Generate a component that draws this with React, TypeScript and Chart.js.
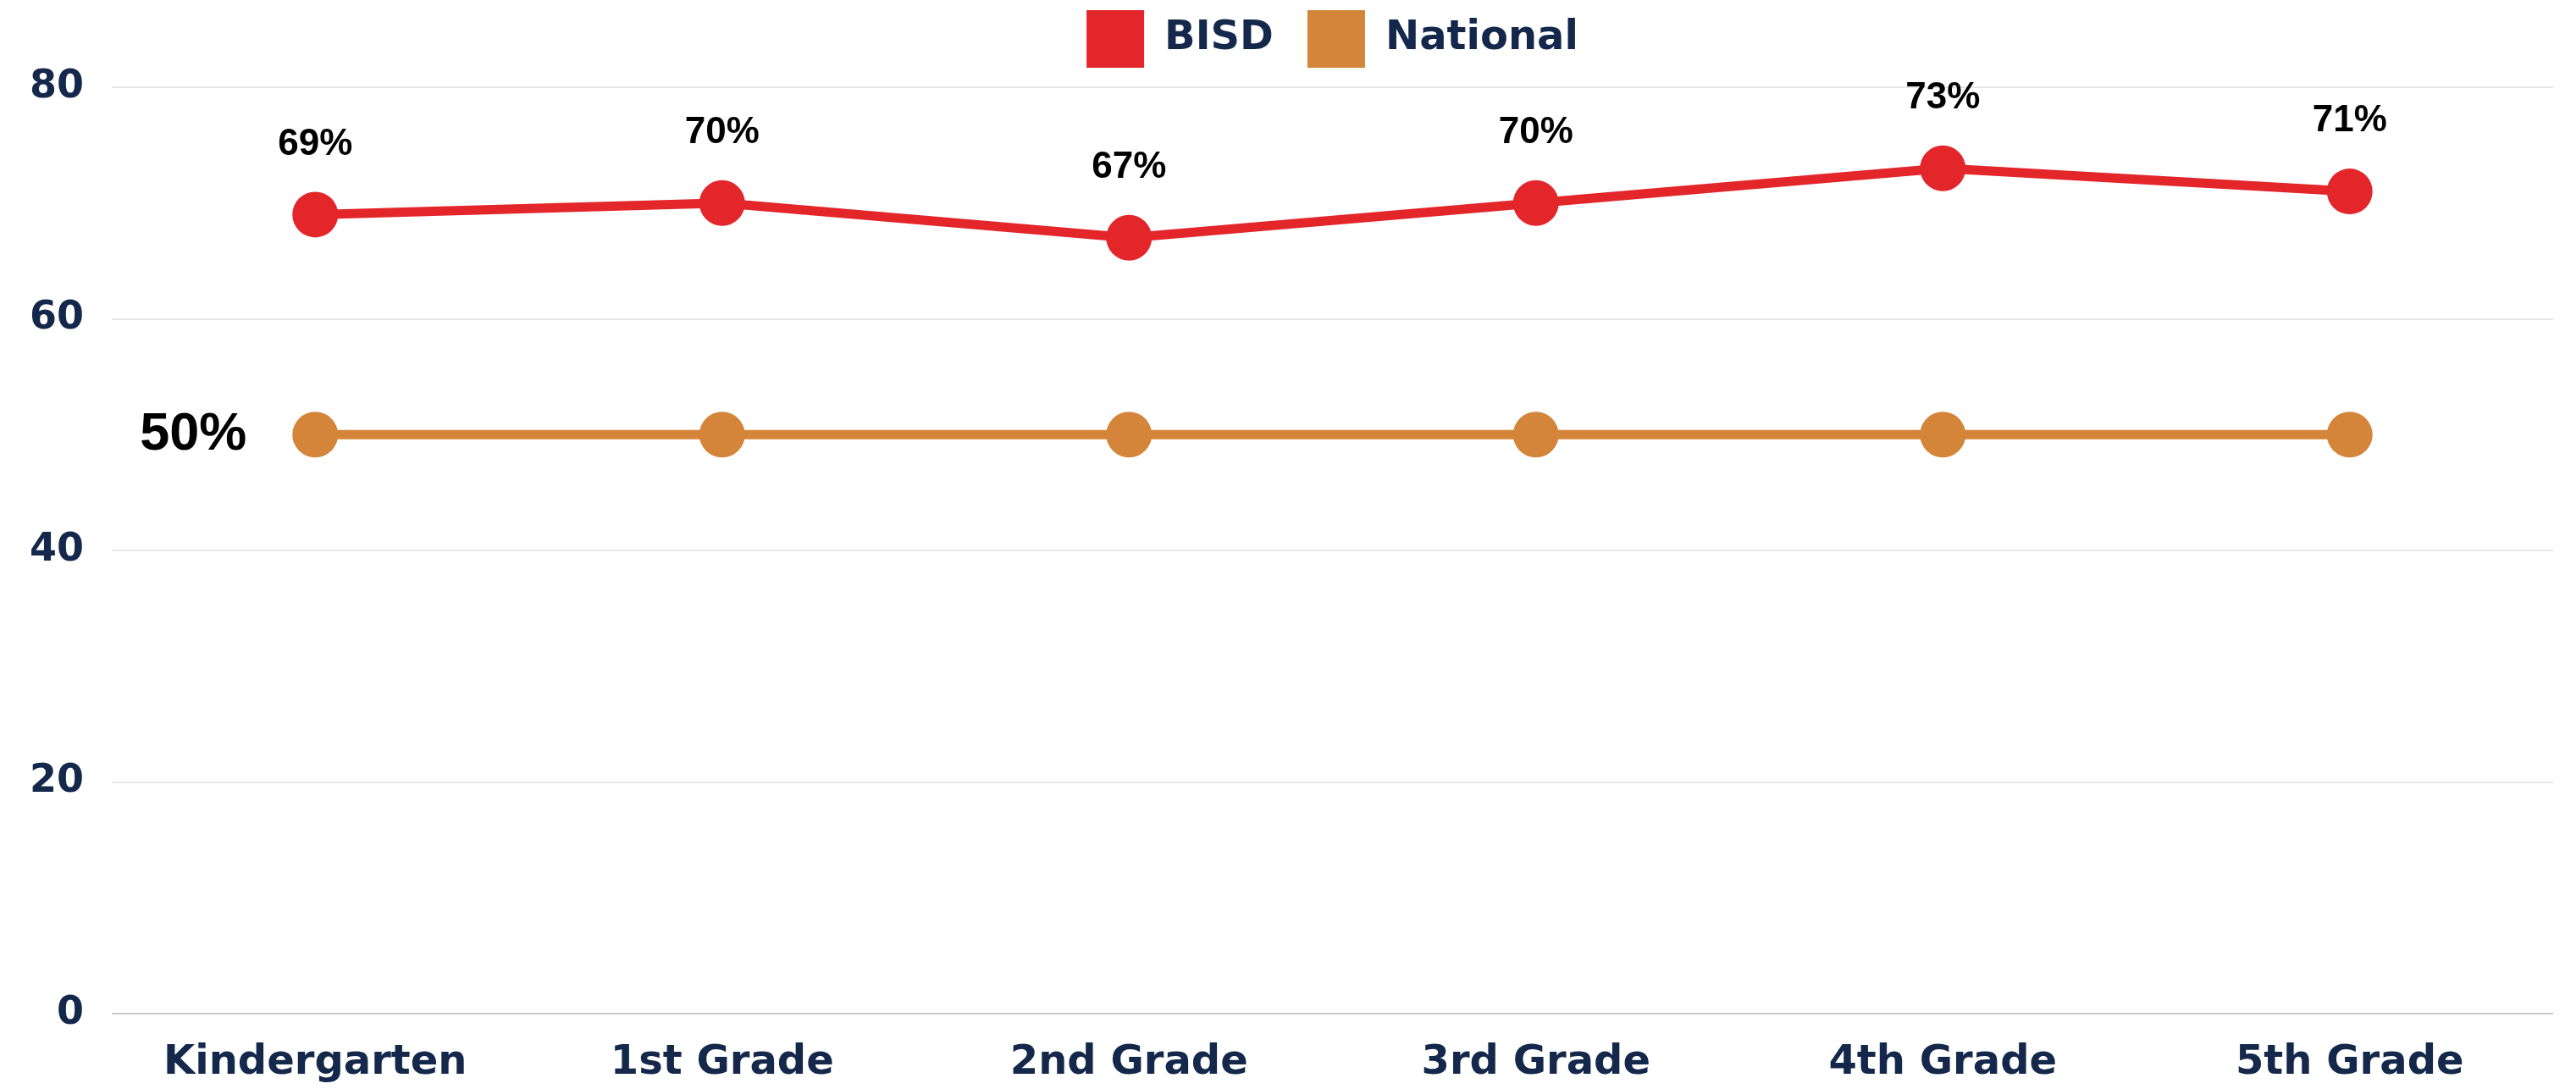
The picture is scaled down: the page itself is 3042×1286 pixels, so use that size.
import React, { useEffect, useRef } from "react";
import { Chart, registerables } from "chart.js";

Chart.register(...registerables);

const categories = ["Kindergarten", "1st Grade", "2nd Grade", "3rd Grade", "4th Grade", "5th Grade"];
const seriesNames = ["BISD", "National"];
const bisdValues = [69, 70, 67, 70, 73, 71];
const nationalValues = [50, 50, 50, 50, 50, 50];
const yTickValues = [0, 20, 40, 60, 80];

const RED = "#E3262A";
const ORANGE = "#D4853A";
const NAVY = "#14284B";

const dataLabelPlugin = {
  id: "dataLabels",
  afterDatasetsDraw(chart: any) {
    const ctx = chart.ctx;
    ctx.save();
    ctx.fillStyle = "#000000";
    ctx.textAlign = "center";
    ctx.textBaseline = "middle";
    ctx.font = 'bold 44px "Liberation Sans", Arial, sans-serif';
    const m0 = chart.getDatasetMeta(0);
    m0.data.forEach((pt: any, i: number) => {
      ctx.fillText(`${bisdValues[i]}%`, pt.x, pt.y - 83);
    });
    const m1 = chart.getDatasetMeta(1);
    const p = m1.data[0];
    if (p) {
      ctx.font = 'bold 63px "Liberation Sans", Arial, sans-serif';
      ctx.textAlign = "right";
      ctx.fillText(`${nationalValues[0]}%`, p.x - 81, p.y);
    }
    ctx.restore();
  },
};

const legendGapPlugin = {
  id: "legendGap",
  beforeUpdate(chart: any) {
    const lg = chart.legend;
    if (lg && !lg.__patched) {
      const orig = lg.fit.bind(lg);
      lg.fit = function () {
        orig();
        this.height += 13;
      };
      lg.__patched = true;
    }
  },
};

export default function App() {
  const ref = useRef<HTMLCanvasElement | null>(null);

  useEffect(() => {
    document.body.style.margin = "0";
    if (!ref.current) return;
    const chart = new Chart(ref.current, {
      type: "line",
      data: {
        labels: categories,
        datasets: [
          {
            label: seriesNames[0],
            data: bisdValues,
            borderColor: RED,
            backgroundColor: RED,
            pointBackgroundColor: RED,
            pointBorderWidth: 0,
            pointRadius: 27,
            pointHoverRadius: 27,
            borderWidth: 11,
            tension: 0,
          },
          {
            label: seriesNames[1],
            data: nationalValues,
            borderColor: ORANGE,
            backgroundColor: ORANGE,
            pointBackgroundColor: ORANGE,
            pointBorderWidth: 0,
            pointRadius: 27,
            pointHoverRadius: 27,
            borderWidth: 11,
            tension: 0,
          },
        ],
      },
      options: {
        responsive: false,
        devicePixelRatio: 1,
        animation: false,
        layout: { padding: { top: -28, left: 0, right: 10, bottom: 0 } },
        plugins: {
          tooltip: { enabled: false },
          legend: {
            position: "top",
            fullSize: false,
            labels: {
              boxWidth: 68,
              boxHeight: 68,
              padding: 40,
              color: NAVY,
              font: { family: '"DejaVu Sans", sans-serif', weight: "bold", size: 48 },
              generateLabels: (c: any) =>
                Chart.defaults.plugins.legend.labels
                  .generateLabels(c)
                  .map((it: any) => ({ ...it, lineWidth: 0 })),
            },
          },
        },
        scales: {
          x: {
            offset: true,
            grid: { display: false },
            border: { display: false },
            ticks: {
              color: NAVY,
              padding: 22,
              font: { family: '"DejaVu Sans", sans-serif', weight: "bold", size: 48 },
            },
            afterFit: (s: any) => {
              s.height = 89;
            },
          },
          y: {
            min: yTickValues[0],
            max: yTickValues[yTickValues.length - 1],
            afterBuildTicks: (s: any) => {
              s.ticks = yTickValues.map((v) => ({ value: v }));
            },
            grid: {
              drawTicks: false,
              lineWidth: 2,
              color: (c: any) => (c.tick && c.tick.value === 0 ? "#c9c9c9" : "#e6e6e6"),
            },
            border: { display: false },
            ticks: {
              color: NAVY,
              padding: 33,
              font: { family: '"DejaVu Sans", sans-serif', weight: "bold", size: 46 },
              callback: (v: any) => String(v),
            },
            afterFit: (s: any) => {
              s.width = 132;
            },
          },
        },
      },
      plugins: [dataLabelPlugin, legendGapPlugin],
    });
    return () => chart.destroy();
  }, []);

  return (
    <div style={{ width: 3042, height: 1286, background: "#ffffff" }}>
      <canvas ref={ref} width={3042} height={1286} style={{ display: "block" }} />
    </div>
  );
}
